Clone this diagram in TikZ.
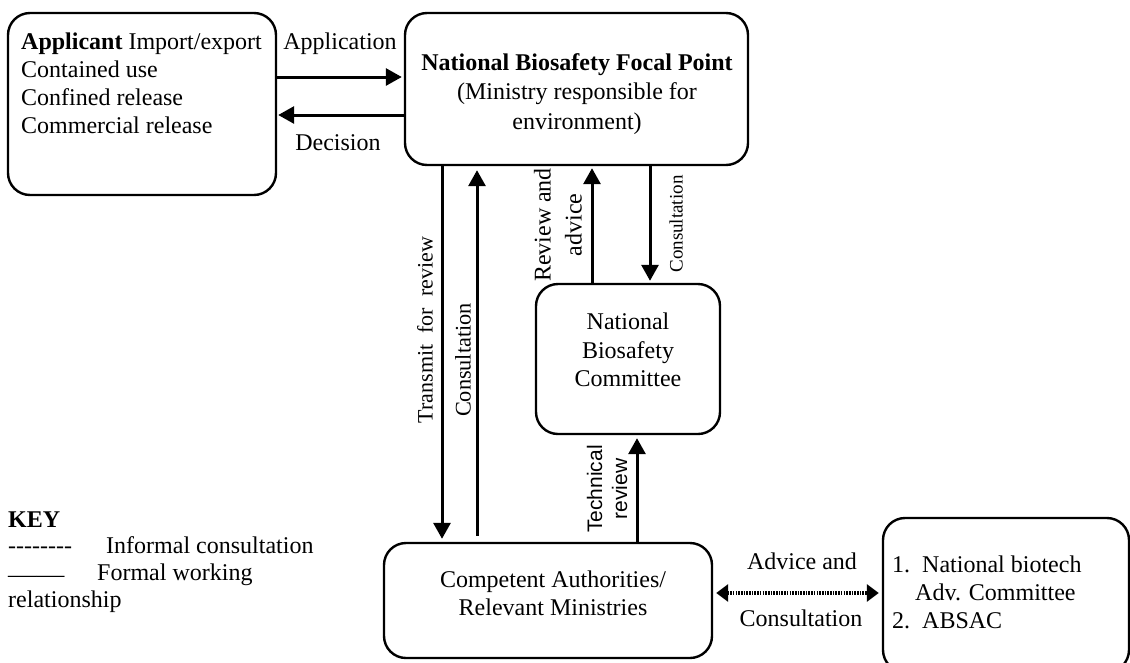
\documentclass[tikz,border=0pt]{standalone}
\usepackage{fontspec}
\usepackage{graphicx}
\setmainfont{Liberation Serif}
\newfontfamily\techfont{Liberation Sans}
\usetikzlibrary{arrows.meta}
\begin{document}
\begin{tikzpicture}[x=1pt,y=-1pt,
  box/.style={draw, line width=2.4pt, rounded corners=22pt, inner sep=0pt},
  txt/.style={font=\fontsize{24}{28}\selectfont, inner sep=0pt},
  arr/.style={line width=3pt, -{Triangle[length=16pt,width=17pt]}},
  dotarr/.style={line width=3.2pt, dash pattern=on 1.6pt off 1.1pt,
    {Triangle[length=12pt,width=17pt]}-{Triangle[length=12pt,width=17pt]}}]

\path[use as bounding box, clip] (0,0) rectangle (1130,662);

% boxes
\node[box, minimum width=268pt, minimum height=182pt] (app)  at (142,104) {};
\node[box, minimum width=343pt, minimum height=152pt] (nbfp) at (576.5,89) {};
\node[box, minimum width=184pt, minimum height=150pt] (nbc)  at (628,359) {};
\node[box, minimum width=328pt, minimum height=115pt] (comp) at (548,600.5) {};
\node[box, minimum width=246pt, minimum height=154pt] (rb)   at (1006,595) {};

% box texts
\node[txt, anchor=north west, align=left] (apptext) at (21,32.5)
  {\textbf{Applicant} Import/export\\Contained use\\Confined release\\Commercial release};
\node[txt, align=center, font=\fontsize{24}{29.5}\selectfont] (nbfptext) at (577,94)
  {\textbf{National Biosafety Focal Point}\\(Ministry responsible for\\environment)};
\node[txt, align=center, font=\fontsize{24}{28.5}\selectfont] (nbctext) at (628,350)
  {National\\Biosafety\\Committee};
\node[txt, align=center] (comptext) at (553,593)
  {Competent Authorities/\\Relevant Ministries};
\node[txt, anchor=north west, align=left] (rbtext) at (892,555.5)
  {1.\hspace*{12pt}National biotech\\\hspace*{23pt}Adv. Committee\\2.\hspace*{12pt}ABSAC};

% connector columns and rows
\coordinate (xT) at (442,0);
\coordinate (xC) at (477,0);
\coordinate (xR) at (592,0);
\coordinate (xS) at (650,0);
\coordinate (xTech) at (637,0);
\coordinate (yApp) at (0,77);
\coordinate (yDec) at (0,115);
\coordinate (yAdv) at (0,593);

% connectors
\draw[arr, shorten >=2pt] (app.east |- yApp) -- (nbfp.west |- yApp);
\draw[arr, shorten >=1pt] (nbfp.west |- yDec) -- (app.east |- yDec);
\draw[arr, shorten >=3pt] (nbfp.south -| xT) -- (comp.north -| xT);
\draw[arr, shorten <=6pt, shorten >=4pt] (comp.north -| xC) -- (nbfp.south -| xC);
\draw[arr, shorten >=2pt] (nbc.north -| xR) -- (nbfp.south -| xR);
\draw[arr, shorten >=2pt] (nbfp.south -| xS) -- (nbc.north -| xS);
\draw[arr, shorten >=3pt] (comp.north -| xTech) -- (nbc.south -| xTech);
\draw[dotarr, shorten <=3pt, shorten >=3pt] (comp.east |- yAdv) -- (rb.west |- yAdv);

% connector labels
\node[txt, anchor=base] (lapp) at (340,49) {Application};
\node[txt, anchor=base] (ldec) at (338,150) {Decision};
\node[txt, rotate=90, font=\fontsize{22}{26}\selectfont] (ltrans) at (425,330)
  {Transmit\hspace{0.5em}for\hspace{0.5em}review};
\node[txt, rotate=90, font=\fontsize{22.3}{26}\selectfont] (lcons1) at (463,360) {Consultation};
\node[txt, rotate=90, align=center, font=\fontsize{24}{31}\selectfont] (lrev) at (558,225)
  {Review and\\advice};
\node[txt, rotate=90, font=\fontsize{19}{22}\selectfont] (lcons2) at (676,224) {Consultation};
\node[txt, rotate=90, align=center, font=\techfont\fontsize{21}{25}\selectfont] (ltech) at (607,489)
  {Technical\\review};
\node[txt, anchor=base] (ladv) at (802,569) {Advice and};
\node[txt, anchor=base] (lcons3) at (801,626) {Consultation};

% key
\node[txt, anchor=base west] (key) at (8,527) {\textbf{KEY}};
\node[txt, anchor=base west] (khy) at (8,553.5)
  {-\kern0pt-\kern0pt-\kern0pt-\kern0pt-\kern0pt-\kern0pt-\kern0pt-};
\node[txt, anchor=base west] (kinf) at (106,553) {Informal consultation};
\node[txt, anchor=base west] (kdash) at (8,582.5) {\scalebox{1.17}[1]{——}};
\node[txt, anchor=base west] (kform) at (97,580) {Formal working};
\node[txt, anchor=base west] (krel) at (8,607) {relationship};
\end{tikzpicture}
\end{document}
